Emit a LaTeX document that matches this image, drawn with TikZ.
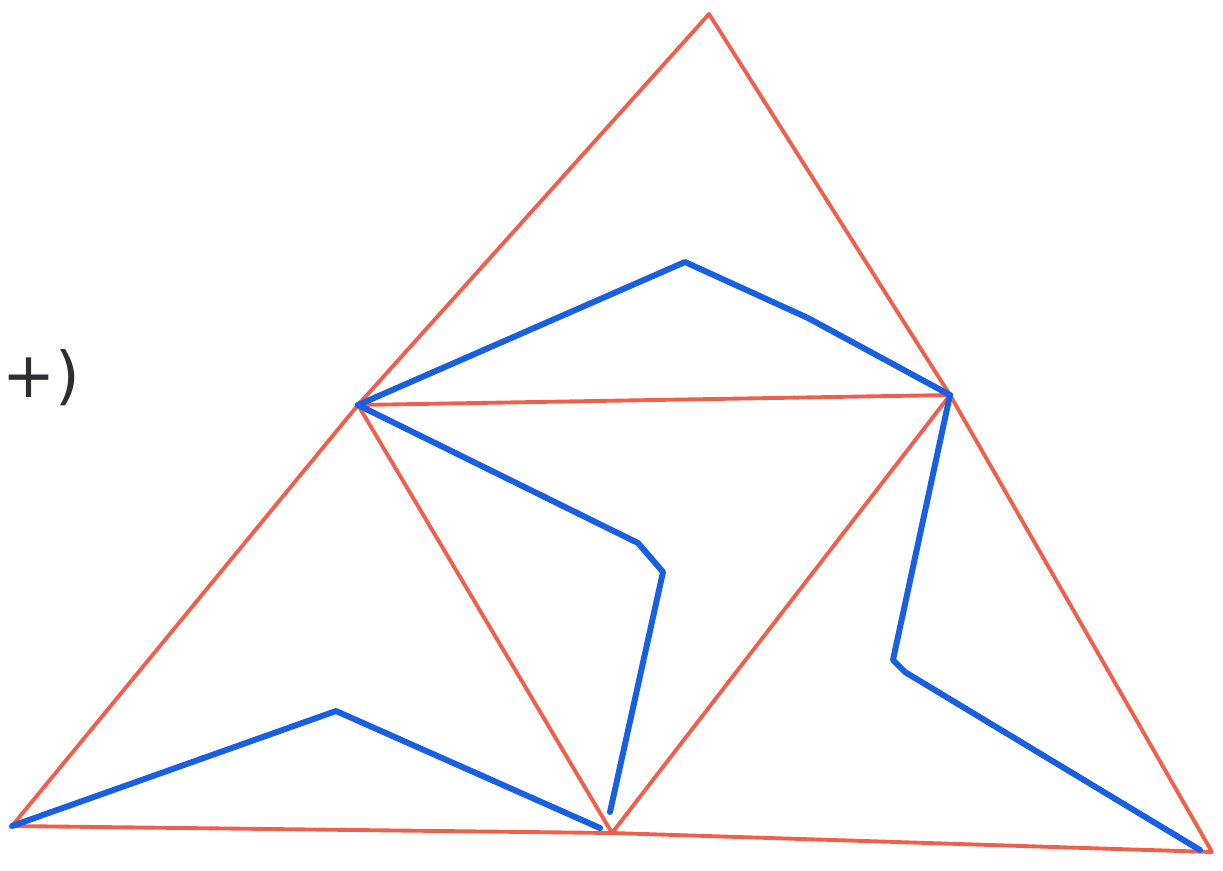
\documentclass[tikz,border=0pt]{standalone}
\usepackage{fontspec}
\setmainfont{DejaVu Sans}
\begin{document}
\begin{tikzpicture}[x=0.02cm,y=-0.02cm,
  redline/.style={draw={rgb,255:red,240;green,95;blue,75},line width=2.2pt,line cap=round,line join=round},
  blueline/.style={draw={rgb,255:red,25;green,95;blue,225},line width=3.4pt,line cap=round,line join=round},
  handtext/.style={text={rgb,255:red,45;green,45;blue,50},font=\fontsize{36}{40}\selectfont,inner sep=0pt}]
\useasboundingbox (0,0) rectangle (1223,870);
% vertices
\coordinate (T) at (709,14);
\coordinate (L) at (358,405);
\coordinate (R) at (950,395);
\coordinate (BL) at (12,826);
\coordinate (M) at (612,833);
\coordinate (BR) at (1212,852);
% red triangle edges
\draw[redline] (BL) -- (L) -- (T) -- (R) -- (BR) -- (M) -- cycle;
\draw[redline] (L) -- (R) -- (M) -- (L);
% blue paths
\coordinate (a1) at (685,262);
\coordinate (a2) at (808,318);
\draw[blueline] (L) -- (a1) -- (a2) -- (R);
\coordinate (b1) at (638,543);
\coordinate (b2) at (663,572);
\coordinate (b3) at (610,812);
\draw[blueline] (L) -- (b1) -- (b2) -- (b3);
\coordinate (c1) at (893,660);
\coordinate (c2) at (905,672);
\coordinate (c3) at (1200,850);
\draw[blueline] (R) -- (c1) -- (c2) -- (c3);
\coordinate (d1) at (336,711);
\coordinate (d2) at (600,828);
\draw[blueline] (BL) -- (d1) -- (d2);
% text at left edge
\node[handtext,anchor=west] (txt) at (2,378) {+)};
\end{tikzpicture}
\end{document}
